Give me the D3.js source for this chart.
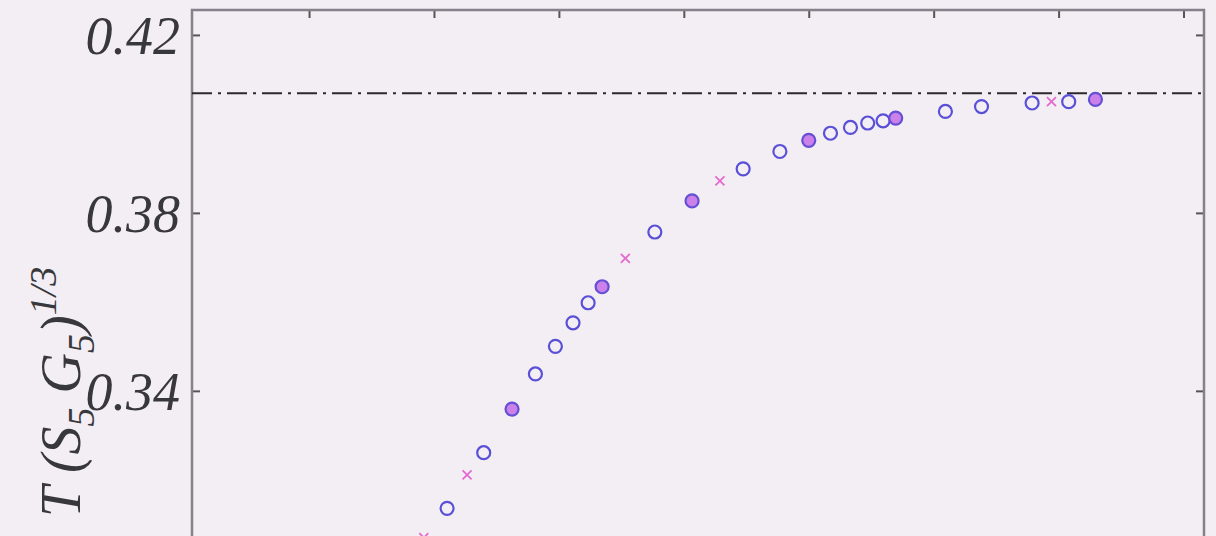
<!DOCTYPE html>
<html>

<head>
    <style>
        body {
            margin: 0;
            background-color: #f3eef4;
        }

        svg {
            display: block;
        }

        .ticklabel {
            font-family: "Liberation Serif", "DejaVu Serif", serif;
            font-style: italic;
            font-size: 54px;
            fill: #38383c;
        }

        .ylabel {
            font-family: "Liberation Serif", "DejaVu Serif", serif;
            font-style: italic;
            font-size: 56px;
            fill: #38383c;
        }
    </style>
</head>

<body>
    <div id="chart"></div>

    <script src="https://d3js.org/d3.v7.min.js"></script>

    <script>
        // open blue circles
        var circleX = [2.105, 2.398, 2.812, 2.972, 3.113, 3.234, 3.768, 4.475, 4.769, 5.174, 5.334, 5.472, 5.595, 6.094, 6.383, 6.788, 7.081];
        var circleY = [0.3136, 0.3261, 0.3438, 0.3500, 0.3553, 0.3598, 0.3757, 0.3899, 0.3938, 0.3979, 0.3992, 0.4002, 0.4007, 0.4028, 0.4039, 0.4047, 0.4050];

        // circles where both series coincide
        var bothX = [2.625, 3.346, 4.066, 5.000, 5.696, 7.295];
        var bothY = [0.3359, 0.3634, 0.3827, 0.3963, 0.4013, 0.4055];

        // magenta crosses
        var crossX = [1.919, 2.265, 3.532, 4.289, 6.943];
        var crossY = [0.3070, 0.3211, 0.3698, 0.3872, 0.4050];

        var limitY = 0.4069;
        var xTicks = [1, 2, 3, 4, 5, 6, 7, 8];
        var yTicks = [0.30, 0.34, 0.38, 0.42];
        var yLabelTicks = [0.34, 0.38, 0.42];
        var yTickLabels = ["0.34", "0.38", "0.42"];

        var width = 1216, height = 536;
        var plotLeft = 192, plotRight = 1204, plotTop = 10, plotBottom = 620;

        var svg = d3.select("#chart").append("svg")
            .attr("width", width)
            .attr("height", height);

        var x = d3.scaleLinear().domain([0.063, 8.164]).range([plotLeft, plotRight]);
        var y = d3.scaleLinear().domain([0.2885, 0.4256]).range([plotBottom, plotTop]);

        svg.append("rect")
            .attr("width", width)
            .attr("height", height)
            .attr("fill", "#f3eef4");

        // inward ticks on all four sides
        svg.append("g")
            .attr("transform", "translate(0," + plotTop + ")")
            .call(d3.axisBottom(x).tickValues(xTicks).tickSize(8).tickFormat(""))
            .call(g => g.select(".domain").remove());
        svg.append("g")
            .attr("transform", "translate(" + plotLeft + ",0)")
            .call(d3.axisRight(y).tickValues(yTicks).tickSize(8).tickFormat(""))
            .call(g => g.select(".domain").remove());
        svg.append("g")
            .attr("transform", "translate(" + plotRight + ",0)")
            .call(d3.axisLeft(y).tickValues(yTicks).tickSize(8).tickFormat(""))
            .call(g => g.select(".domain").remove());
        svg.selectAll(".tick line")
            .attr("stroke", "#555")
            .attr("stroke-width", 2);

        svg.selectAll(".ticklabel")
            .data(yLabelTicks)
            .enter()
            .append("text")
            .attr("class", "ticklabel")
            .attr("x", plotLeft - 12)
            .attr("y", d => y(d))
            .attr("dy", "0.35em")
            .attr("text-anchor", "end")
            .text((d, i) => yTickLabels[i]);

        svg.append("rect")
            .attr("x", plotLeft)
            .attr("y", plotTop)
            .attr("width", plotRight - plotLeft)
            .attr("height", plotBottom - plotTop)
            .attr("fill", "none")
            .attr("stroke", "#85808a")
            .attr("stroke-width", 2.5);

        svg.append("line")
            .attr("x1", plotLeft)
            .attr("x2", plotRight)
            .attr("y1", y(limitY))
            .attr("y2", y(limitY))
            .attr("stroke", "#2a2a2e")
            .attr("stroke-width", 2)
            .attr("stroke-dasharray", "20,6,3,6");

        var circles = circleX.map((v, i) => [v, circleY[i]]);
        var both = bothX.map((v, i) => [v, bothY[i]]);
        var crosses = crossX.map((v, i) => [v, crossY[i]]);

        svg.append("g").selectAll("circle")
            .data(circles)
            .enter()
            .append("circle")
            .attr("cx", d => x(d[0]))
            .attr("cy", d => y(d[1]))
            .attr("r", 6.5)
            .attr("fill", "none")
            .attr("stroke", "#5a50d8")
            .attr("stroke-width", 2.2);

        svg.append("g").selectAll("circle")
            .data(both)
            .enter()
            .append("circle")
            .attr("cx", d => x(d[0]))
            .attr("cy", d => y(d[1]))
            .attr("r", 6.5)
            .attr("fill", "#cc80ea")
            .attr("stroke", "#6450d4")
            .attr("stroke-width", 2.2);

        var s = 4.5;
        svg.append("g").selectAll("path")
            .data(crosses)
            .enter()
            .append("path")
            .attr("d", d => {
                var cx = x(d[0]), cy = y(d[1]);
                return "M" + (cx - s) + "," + (cy - s) + "L" + (cx + s) + "," + (cy + s) +
                    "M" + (cx - s) + "," + (cy + s) + "L" + (cx + s) + "," + (cy - s);
            })
            .attr("stroke", "#e46ad2")
            .attr("stroke-width", 1.8)
            .attr("fill", "none");

        // y label T(S5 G5)^1/3, rotated
        var label = svg.append("text")
            .attr("class", "ylabel")
            .attr("transform", "translate(80,392) rotate(-90)")
            .attr("text-anchor", "middle");
        label.append("tspan").text("T (S");
        label.append("tspan").attr("font-size", "38px").attr("dy", 14).text("5");
        label.append("tspan").attr("dy", -14).text(" G");
        label.append("tspan").attr("font-size", "38px").attr("dy", 14).text("5");
        label.append("tspan").attr("dy", -14).text(")");
        label.append("tspan").attr("font-size", "38px").attr("dy", -24).text("1/3");
    </script>
</body>

</html>
